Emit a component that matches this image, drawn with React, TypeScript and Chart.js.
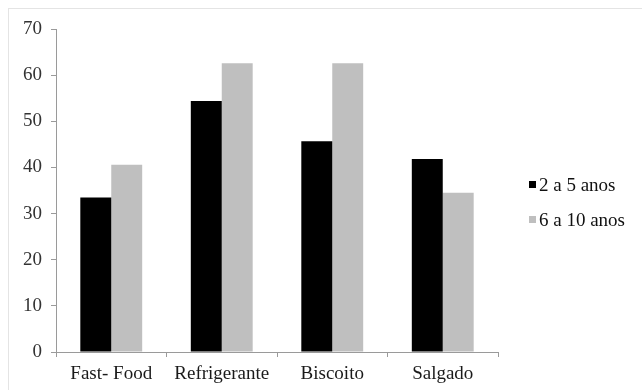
import React, { useEffect, useRef } from "react";
import { Chart, registerables } from "chart.js";

Chart.register(...registerables);

const categories = ["Fast- Food", "Refrigerante", "Biscoito", "Salgado"];
const seriesLabels = ["2 a 5 anos", "6 a 10 anos"];
const ages2to5 = [33.5, 54.4, 45.7, 41.8];
const ages6to10 = [40.6, 62.6, 62.6, 34.5];
const yTicks = [0, 10, 20, 30, 40, 50, 60, 70];

const SERIF = "'Liberation Serif', 'Times New Roman', serif";
const BLACK = "#000000";
const GRAY = "#bfbfbf";
const AXIS = "#9a9a9a";

// Legend on the right: small square swatch followed by the series name
const sideLegend = {
  id: "sideLegend",
  afterDraw(chart: any) {
    const ctx = chart.ctx;
    const x = chart.chartArea.right + 31;
    const y0 = 185;
    const gap = 35;
    ctx.save();
    ctx.font = `19px ${SERIF}`;
    ctx.textBaseline = "middle";
    ctx.textAlign = "left";
    chart.data.datasets.forEach((ds: any, i: number) => {
      const y = y0 + i * gap;
      ctx.fillStyle = ds.backgroundColor;
      ctx.fillRect(x, y - 4, 7, 7);
      ctx.fillStyle = "#111";
      ctx.fillText(ds.label, x + 10, y + 1);
    });
    ctx.restore();
  },
};

export default function App() {
  const canvasRef = useRef<HTMLCanvasElement | null>(null);

  useEffect(() => {
    if (!canvasRef.current) return;
    const chart = new Chart(canvasRef.current, {
      type: "bar",
      data: {
        labels: categories,
        datasets: [
          { label: seriesLabels[0], data: ages2to5, backgroundColor: BLACK },
          { label: seriesLabels[1], data: ages6to10, backgroundColor: GRAY },
        ],
      },
      options: {
        animation: false,
        responsive: false,
        maintainAspectRatio: false,
        layout: { padding: { left: 0, top: 29, right: 144, bottom: 0 } },
        datasets: {
          bar: { categoryPercentage: 0.56, barPercentage: 1.0 },
        },
        plugins: {
          legend: { display: false },
          tooltip: { enabled: false },
        },
        scales: {
          x: {
            grid: {
              display: true,
              drawOnChartArea: false,
              drawTicks: true,
              tickLength: 5,
              color: AXIS,
              offset: true,
            },
            border: { display: true, color: AXIS, width: 1 },
            ticks: {
              color: "#1a1a1a",
              font: { family: SERIF, size: 19 },
              padding: 6,
              maxRotation: 0,
              autoSkip: false,
            },
            afterFit(scale: any) {
              scale.height = 38;
            },
          },
          y: {
            min: 0,
            max: 70,
            afterBuildTicks(scale: any) {
              scale.ticks = yTicks.map((v) => ({ value: v }));
            },
            grid: {
              display: true,
              drawOnChartArea: false,
              drawTicks: true,
              tickLength: 5,
              color: AXIS,
            },
            border: { display: true, color: AXIS, width: 1 },
            ticks: {
              color: "#333333",
              font: { family: SERIF, size: 19 },
              padding: 9,
            },
            afterFit(scale: any) {
              scale.width = 56;
            },
          },
        },
      },
      plugins: [sideLegend],
    });
    return () => chart.destroy();
  }, []);

  return (
    <div
      style={{
        position: "absolute",
        left: 0,
        top: 0,
        width: 642,
        height: 390,
        background: "#ffffff",
        overflow: "hidden",
      }}
    >
      <div
        style={{
          position: "absolute",
          left: 8,
          top: 8,
          width: 640,
          height: 390,
          borderTop: "1px solid #e4e4e4",
          borderLeft: "1px solid #e4e4e4",
        }}
      />
      <canvas
        ref={canvasRef}
        width={642}
        height={390}
        style={{ position: "absolute", left: 0, top: 0, width: 642, height: 390 }}
      />
    </div>
  );
}
